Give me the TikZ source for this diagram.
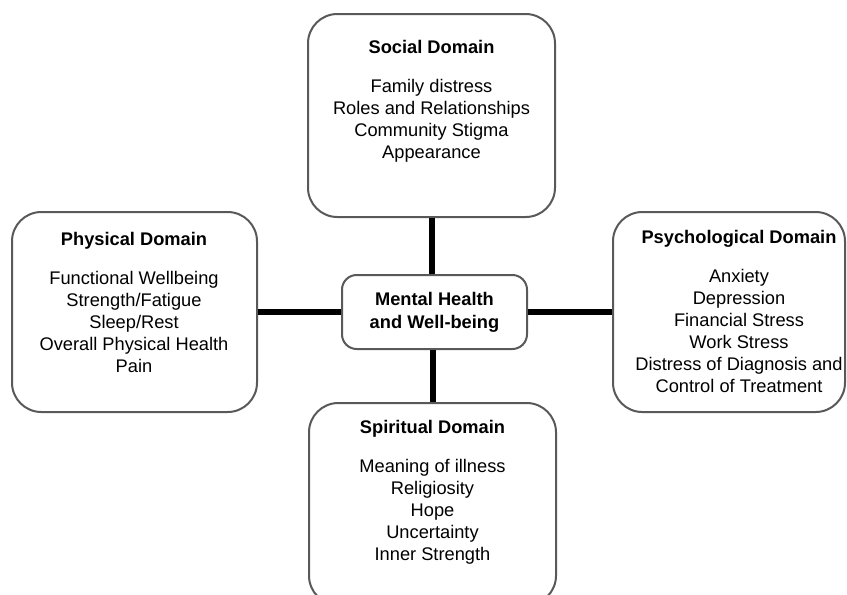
\documentclass[tikz,border=0pt]{standalone}
\usepackage{fontspec}
\setmainfont{Liberation Sans}
\usepackage{xcolor}
\usepackage{tikz}
\usetikzlibrary{calc}

\begin{document}
\begin{tikzpicture}[x=0.75pt,y=-0.75pt]
\tikzset{domainbox/.style={draw=black!65, line width=1.5pt, rounded corners=22pt, fill=white},
         domaintext/.style={anchor=north, align=center, inner sep=0pt, font=\fontsize{13.7}{16.5}\selectfont},
         link/.style={line width=4.5pt, black}}
\useasboundingbox (0,0) rectangle (847,594);

% domain boxes
\node[domainbox, minimum width=185.25pt, minimum height=152.25pt] (social) at (431.5,115.5) {};
\node[domainbox, minimum width=183.75pt, minimum height=150pt] (physical) at (134.5,312) {};
\node[domainbox, minimum width=174pt, minimum height=150pt] (psych) at (729,312) {};
\node[domainbox, minimum width=185.25pt, minimum height=151.5pt] (spiritual) at (432.5,504) {};
\node[domainbox, rounded corners=11pt, minimum width=138.75pt, minimum height=55.5pt,
      align=center, font=\fontsize{13.7}{17.25}\selectfont\bfseries] (mental) at (434.5,312) {Mental Health\\and Well-being};

% connectors
\draw[link] (mental.west) -- (physical.east |- mental.west);
\draw[link] (mental.east) -- (psych.west |- mental.east);
\draw[link] (mental.north -| social.south) -- (social.south);
\draw[link] (mental.south -| spiritual.north) -- (spiritual.north);

% texts
\node[domaintext] (socialtxt) at (431.5,40) {\textbf{Social Domain}\\[12.75pt]
  Family distress\\Roles and Relationships\\Community Stigma\\Appearance};
\node[domaintext] (physicaltxt) at (134,232) {\textbf{Physical Domain}\\[12.75pt]
  Functional Wellbeing\\Strength/Fatigue\\Sleep/Rest\\Overall Physical Health\\Pain};
\node[domaintext] (psychtxt) at (739,230) {\textbf{Psychological Domain}\\[12.75pt]
  Anxiety\\Depression\\Financial Stress\\Work Stress\\Distress of Diagnosis and\\Control of Treatment};
\node[domaintext] (spiritualtxt) at (432.5,420) {\textbf{Spiritual Domain}\\[12.75pt]
  Meaning of illness\\Religiosity\\Hope\\Uncertainty\\Inner Strength};
\end{tikzpicture}
\end{document}
